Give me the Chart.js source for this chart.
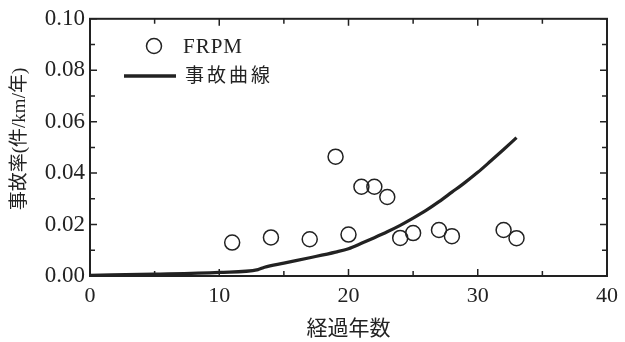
<!DOCTYPE html>
<html>
<head>
<meta charset="utf-8">
<script src="https://cdn.jsdelivr.net/npm/chart.js@4/dist/chart.umd.min.js"></script>
<style>
  html, body { margin: 0; padding: 0; background: #fff; }
  #wrap { width: 625px; height: 342px; }
</style>
</head>
<body>
<div id="wrap"><canvas id="chart"></canvas></div>
<script>
// FRPM observed points
const frpmYears = [11, 14, 17, 19, 20, 21, 22, 23, 24, 25, 27, 28, 32, 33];
const frpmRates = [0.0130, 0.0150, 0.0143, 0.0464, 0.0161, 0.0347, 0.0347, 0.0307, 0.0148, 0.0167, 0.0179, 0.0155, 0.0179, 0.0147];

// accident curve
const curveYears = [0, 5, 10, 13, 13.5, 15, 17, 19, 20, 21, 22, 23, 24, 25, 26, 27, 28, 29, 30, 31, 32, 33];
const curveRates = [0.0003, 0.0007, 0.0014, 0.0025, 0.0034, 0.0050, 0.0071, 0.0093, 0.0106, 0.0127, 0.0149, 0.0172, 0.0197, 0.0225, 0.0255, 0.0289, 0.0326, 0.0363, 0.0403, 0.0447, 0.0492, 0.0538];

const xTicks = [0, 10, 20, 30, 40];
const yTicks = [0, 0.02, 0.04, 0.06, 0.08, 0.10];

const ink = '#222';
const serif = "'Liberation Serif', 'Times New Roman', 'Noto Sans CJK JP', serif";

// frame + inward ticks on all four sides, legend and y title
const framePlugin = {
    id: 'frame',
    afterDraw(chart) {
        const { ctx, chartArea: a, scales } = chart;
        const xs = scales.x, ys = scales.y;
        ctx.save();
        ctx.strokeStyle = ink;
        ctx.lineWidth = 2;
        ctx.strokeRect(a.left, a.top, a.right - a.left, a.bottom - a.top);

        ctx.lineWidth = 1.5;
        for (let v = 0; v <= 40; v += 5) {
            const px = xs.getPixelForValue(v);
            const len = v % 10 === 0 ? 7 : 5;
            ctx.beginPath();
            ctx.moveTo(px, a.bottom); ctx.lineTo(px, a.bottom - len);
            ctx.moveTo(px, a.top); ctx.lineTo(px, a.top + len);
            ctx.stroke();
        }
        for (let i = 0; i <= 10; i++) {
            const py = ys.getPixelForValue(i / 100);
            const len = i % 2 === 0 ? 7 : 5;
            ctx.beginPath();
            ctx.moveTo(a.left, py); ctx.lineTo(a.left + len, py);
            ctx.moveTo(a.right, py); ctx.lineTo(a.right - len, py);
            ctx.stroke();
        }

        // legend
        const ds = chart.data.datasets;
        ctx.fillStyle = ink;
        ctx.textBaseline = 'middle';
        ctx.textAlign = 'left';

        ctx.lineWidth = 1.5;
        ctx.beginPath();
        ctx.arc(154, 46, 7.5, 0, Math.PI * 2);
        ctx.stroke();
        ctx.font = '21px ' + serif;
        ctx.letterSpacing = '1px';
        ctx.fillText(ds[0].label, 183, 47);

        ctx.lineWidth = 3.5;
        ctx.beginPath();
        ctx.moveTo(124, 76); ctx.lineTo(176, 76);
        ctx.stroke();
        ctx.font = '19px ' + serif;
        ctx.letterSpacing = '3px';
        ctx.fillText(ds[1].label, 185, 77);

        // y axis title
        ctx.letterSpacing = '0px';
        ctx.font = '19px ' + serif;
        ctx.translate(20, 139);
        ctx.rotate(-Math.PI / 2);
        ctx.textAlign = 'center';
        ctx.fillText('事故率(件/km/年)', 0, 0);
        ctx.restore();
    }
};

new Chart(document.getElementById('chart'), {
    type: 'scatter',
    data: {
        datasets: [
            {
                label: 'FRPM',
                data: frpmYears.map((x, i) => ({ x: x, y: frpmRates[i] })),
                pointRadius: 7.5,
                pointHoverRadius: 7.5,
                pointBorderWidth: 1.5,
                pointBorderColor: ink,
                pointBackgroundColor: 'rgba(255,255,255,0)',
                showLine: false
            },
            {
                label: '事故曲線',
                data: curveYears.map((x, i) => ({ x: x, y: curveRates[i] })),
                showLine: true,
                borderColor: ink,
                borderWidth: 3.2,
                pointRadius: 0,
                cubicInterpolationMode: 'monotone',
                fill: false
            }
        ]
    },
    options: {
        responsive: true,
        maintainAspectRatio: false,
        animation: false,
        events: [],
        layout: {
            padding: { left: 0, right: 13, top: 17, bottom: 0 }
        },
        plugins: {
            legend: { display: false },
            tooltip: { enabled: false }
        },
        scales: {
            x: {
                type: 'linear',
                min: 0,
                max: 40,
                afterBuildTicks: s => { s.ticks = xTicks.map(v => ({ value: v })); },
                afterFit: s => { s.height = 66; },
                grid: { display: false, drawTicks: false },
                border: { display: false },
                ticks: {
                    color: ink,
                    padding: 7,
                    maxRotation: 0,
                    font: { family: serif, size: 22 },
                    callback: v => String(v)
                },
                title: {
                    display: true,
                    text: '経過年数',
                    color: ink,
                    padding: { top: 4, bottom: 0 },
                    font: { family: serif, size: 21 }
                }
            },
            y: {
                type: 'linear',
                min: 0,
                max: 0.1,
                afterBuildTicks: s => { s.ticks = yTicks.map(v => ({ value: v })); },
                afterFit: s => { s.width = 90; },
                grid: { display: false, drawTicks: false },
                border: { display: false },
                ticks: {
                    color: ink,
                    padding: 5,
                    font: { family: serif, size: 23 },
                    callback: v => v.toFixed(2)
                }
            }
        }
    },
    plugins: [framePlugin]
});
</script>
</body>
</html>
